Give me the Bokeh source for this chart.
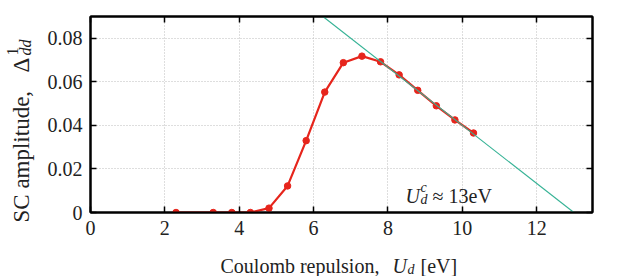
import math
from bokeh.plotting import figure
from bokeh.layouts import row, column
from bokeh.models import Label, LinearAxis, FixedTicker, Range1d, CustomJSTickFormatter
from bokeh.embed import file_html
from bokeh.resources import INLINE

# ---- data ----
u_d = [2.3, 3.3, 3.8, 4.3, 4.8, 5.3, 5.8, 6.3, 6.8, 7.3, 7.8, 8.3, 8.8, 9.3, 9.8, 10.3]
sc_amp = [0.0, 0.0, 0.0, 0.0, 0.002, 0.0122, 0.033, 0.0553, 0.0688, 0.0718,
          0.0692, 0.0632, 0.0561, 0.049, 0.0425, 0.0365]
fit_u = [6.25, 13.0]
fit_amp = [0.09, 0.0]

x_ticks = [0, 2, 4, 6, 8, 10, 12]
y_ticks = [0, 0.02, 0.04, 0.06, 0.08]
y_tick_labels = ["0", "0.02", "0.04", "0.06", "0.08"]

FONT = "Liberation Serif"
TXT = "#222222"
RED = "#e6251c"
GREEN = "#35b295"

YLAB_W = 40
MAIN_W, MAIN_H = 580, 246
XLAB_H = 30

def no_align(f):
    try:
        f.frame_align = False
    except Exception:
        pass

# ---------------- main plot ----------------
p = figure(width=MAIN_W, height=MAIN_H, output_backend="svg", toolbar_location=None,
           x_range=Range1d(0, 13.5), y_range=Range1d(0, 0.09),
           min_border_left=50, min_border_right=28, min_border_top=16, min_border_bottom=34)
no_align(p)
p.background_fill_color = "white"
p.border_fill_color = "white"
p.outline_line_color = "black"
p.outline_line_width = 2

for g in (p.xgrid, p.ygrid):
    g.grid_line_color = "#bdbdbd"
    g.grid_line_dash = "1 2"
    g.grid_line_width = 1
p.xgrid.ticker = FixedTicker(ticks=x_ticks[1:])
p.ygrid.ticker = FixedTicker(ticks=y_ticks[1:])

def style_axis(ax, ticks, show_labels):
    ax.ticker = FixedTicker(ticks=ticks)
    ax.axis_line_color = "black"
    ax.axis_line_width = 2
    ax.major_tick_in = 6
    ax.major_tick_out = 0
    ax.major_tick_line_width = 1.5
    ax.minor_tick_line_color = None
    ax.major_label_text_font = FONT
    ax.major_label_text_color = TXT
    ax.major_label_text_font_size = "20px"
    if show_labels:
        ax.major_label_standoff = 8
    else:
        ax.formatter = CustomJSTickFormatter(code="return ''")
        ax.major_label_standoff = 0

style_axis(p.xaxis[0], x_ticks, True)
style_axis(p.yaxis[0], y_ticks, True)
p.yaxis[0].major_label_overrides = {t: s for t, s in zip(y_ticks, y_tick_labels)}

top_ax = LinearAxis()
style_axis(top_ax, x_ticks, False)
p.add_layout(top_ax, "above")
right_ax = LinearAxis()
style_axis(right_ax, y_ticks, False)
p.add_layout(right_ax, "right")

p.line(u_d, sc_amp, line_color=RED, line_width=2.2)
p.scatter(u_d, sc_amp, size=6.5, fill_color=RED, line_color=RED)
p.line(fit_u, fit_amp, line_color=GREEN, line_width=1.1)

def lab(fig, text, x, y, size="20px", style="normal", angle=0.0):
    fig.add_layout(Label(x=x, y=y, x_units="screen", y_units="screen", text=text,
                         text_font=FONT, text_font_size=size, text_font_style=style,
                         text_color=TXT, angle=angle, text_align="left",
                         text_baseline="alphabetic"))

# annotation inside the frame: U_d^c ≈ 13eV
lab(p, "U", 315, 17, style="italic")
lab(p, "d", 330, 13, size="14px", style="italic")
lab(p, "c", 330, 25, size="14px", style="italic")
lab(p, "≈", 342, 17)
lab(p, "13eV", 358, 17)

# ---------------- label strips ----------------
def strip(w, h):
    f = figure(width=w, height=h, output_backend="svg", toolbar_location=None,
               x_axis_type=None, y_axis_type=None,
               x_range=Range1d(0, 1), y_range=Range1d(0, 1),
               min_border=0, min_border_left=0, min_border_right=0,
               min_border_top=0, min_border_bottom=0)
    no_align(f)
    f.outline_line_color = None
    f.background_fill_color = "white"
    f.border_fill_color = "white"
    return f

# x label: Coulomb repulsion, U_d [eV]
xl = strip(MAIN_W, XLAB_H)
lab(xl, "Coulomb repulsion,", 180, 11)
lab(xl, "U", 352, 11, style="italic")
lab(xl, "d", 367, 7, size="14px", style="italic")
lab(xl, "[eV]", 380, 11)

# y label: SC amplitude, Δ^1_dd (rotated)
yl = strip(YLAB_W, MAIN_H)
A = math.pi / 2
lab(yl, "SC amplitude,", 21, 24, size="23px", angle=A)
lab(yl, "Δ", 21, 174, size="23px", angle=A)
lab(yl, "1", 12, 191, size="16px", angle=A)
lab(yl, "dd", 25, 191, size="16px", style="italic", angle=A)

layout = row(yl, column(p, xl, spacing=0), spacing=0)

open("out.html", "w").write(file_html(layout, INLINE))
